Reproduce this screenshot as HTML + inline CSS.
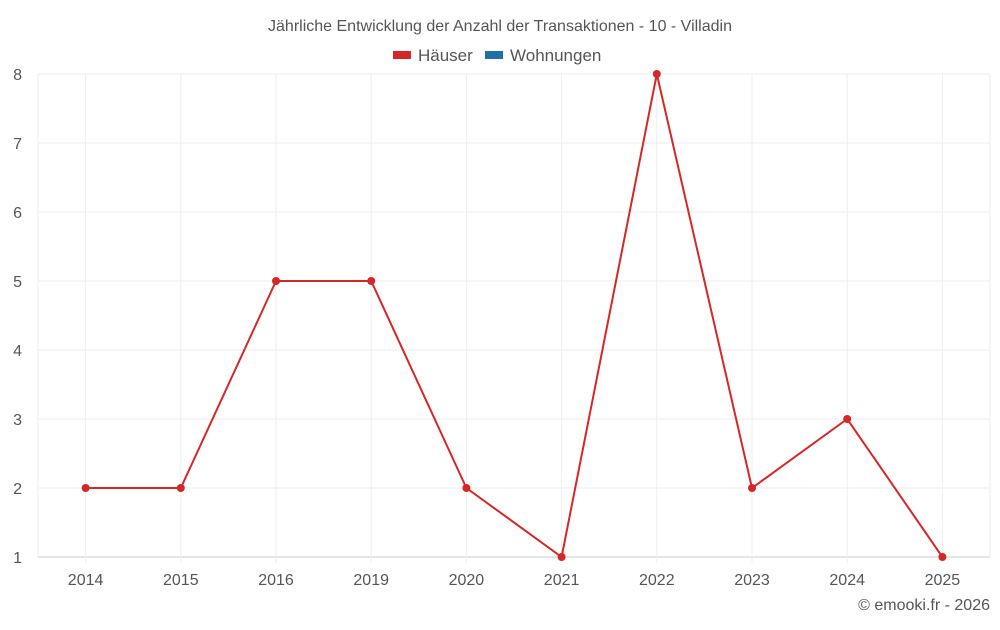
<!DOCTYPE html>
<html><head><meta charset="utf-8"><style>
body{margin:0;background:#fff;font-family:"Liberation Sans",sans-serif}
svg text{font-family:"Liberation Sans",sans-serif;fill:#555}
</style></head><body>
<svg width="1000" height="625">
<text x="500" y="31" text-anchor="middle" font-size="16">Jährliche Entwicklung der Anzahl der Transaktionen - 10 - Villadin</text>
<g>
<g><rect x="393" y="51" width="18" height="8" fill="#d62728"/><text x="418" y="61" font-size="17">Häuser</text></g>
<g><rect x="485" y="51" width="18" height="8" fill="#1f6fa8"/><text x="510" y="61" font-size="17">Wohnungen</text></g>
</g>
<g id="grid"></g>
<g id="axes"></g>
<g id="series"></g>
<text x="990" y="610" text-anchor="end" font-size="16">© emooki.fr - 2026</text>
</svg>
<script>
const categories=["2014","2015","2016","2019","2020","2021","2022","2023","2024","2025"];
const haeuser=[2,2,5,5,2,1,8,2,3,1];
const yTicks=[1,2,3,4,5,6,7,8];
const L=38,R=990,T=74,B=557,ymin=1,ymax=8;
const NS="http://www.w3.org/2000/svg";
const bw=(R-L)/categories.length;
const x=i=>L+bw*(i+0.5);
const y=v=>B-(v-ymin)/(ymax-ymin)*(B-T);
function mk(t,a,p){const e=document.createElementNS(NS,t);for(const k in a)e.setAttribute(k,a[k]);p.appendChild(e);return e;}
const g=document.getElementById('grid'),ax=document.getElementById('axes'),s=document.getElementById('series');
yTicks.forEach(v=>{
 const l=mk('line',{x1:L,x2:R,y1:y(v),y2:y(v),stroke:v===ymin?'#ccc':'#eee'},g);
 
 
 const t=mk('text',{x:L-16,y:y(v)+6,'text-anchor':'end','font-size':16},ax);t.textContent=v;
 
 
});
mk('line',{x1:L,x2:L,y1:T,y2:B,stroke:'#eee'},g);
mk('line',{x1:R,x2:R,y1:T,y2:B,stroke:'#eee'},g);
categories.forEach((c,i)=>{
 const l=mk('line',{x1:x(i),x2:x(i),y1:T,y2:B+6,stroke:'#eee'},g);
 
 
 const t=mk('text',{x:x(i),y:585,'text-anchor':'middle','font-size':16},ax);t.textContent=c;
 
 
});
const p=mk('polyline',{points:haeuser.map((v,i)=>x(i)+','+y(v)).join(' '),fill:'none',stroke:'#d62728','stroke-width':2},s);


haeuser.forEach((v,i)=>{
 const c=mk('circle',{cx:x(i),cy:y(v),r:4,fill:'#d62728'},s);
 
 
});
</script>
</body></html>
